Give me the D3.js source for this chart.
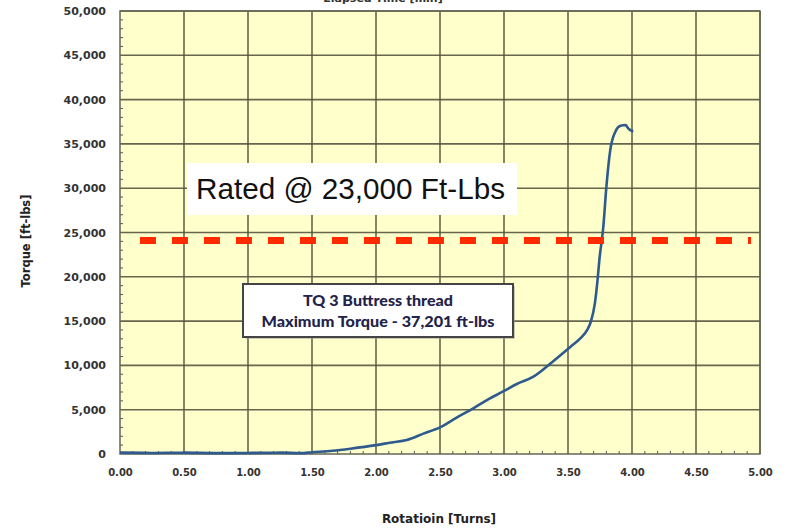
<!DOCTYPE html>
<html>
<head>
<meta charset="utf-8">
<script src="https://cdn.jsdelivr.net/npm/d3@7"></script>
<style>
  html, body { margin: 0; padding: 0; background: #ffffff; }
  svg { display: block; }
</style>
</head>
<body>
<svg id="chart" width="790" height="528"></svg>
<script>
// ---- data ----
const rotation = [0, 0.25, 0.5, 0.75, 1.0, 1.25, 1.41, 1.5, 1.66, 1.8, 2.0, 2.12, 2.24, 2.37, 2.5, 2.63, 2.76, 2.88, 2.99, 3.1, 3.23, 3.38, 3.52, 3.6, 3.65, 3.68, 3.71, 3.73, 3.745, 3.776, 3.80, 3.83, 3.87, 3.906, 3.95, 3.97, 4.01];
const torque   = [150, 120, 150, 100, 120, 150, 100, 200, 370, 600, 1000, 1300, 1580, 2300, 3000, 4100, 5150, 6200, 7030, 7900, 8730, 10420, 12110, 13100, 14000, 15000, 17000, 19500, 21900, 25650, 30170, 34300, 36380, 37020, 37130, 36760, 36380];
const xTicks = [0, 0.5, 1.0, 1.5, 2.0, 2.5, 3.0, 3.5, 4.0, 4.5, 5.0];
const yTicks = [0, 5000, 10000, 15000, 20000, 25000, 30000, 35000, 40000, 45000, 50000];
const ratedLineValue = 24100;
const ratedLineRange = [0.156, 4.93];
const ratedLabel = "Rated @ 23,000 Ft-Lbs";
const noteLines = ["TQ 3 Buttress thread", "Maximum Torque - 37,201 ft-lbs"];
const xTitle = "Rotatioin [Turns]";
const yTitle = "Torque [ft-lbs]";
const topTitle = "Elapsed Time [min]";

// ---- layout ----
const svg = d3.select("#chart");
const L = 120, R = 760, T = 11, B = 454;
const x = d3.scaleLinear().domain([0, 5]).range([L, R]);
const y = d3.scaleLinear().domain([0, 50000]).range([B, T]);

// partially visible top title (cut off at the top edge, as in the reference)
svg.append("text").attr("x", 383).attr("y", 2).attr("text-anchor", "middle")
  .attr("font-family", "DejaVu Sans").attr("font-weight", "bold").attr("font-size", 11)
  .attr("fill", "#333").text(topTitle);

// plot background
svg.append("rect").attr("x", L).attr("y", T).attr("width", R - L).attr("height", B - T)
  .attr("fill", "#FFFFCC");

// grid
const grid = svg.append("g");
grid.selectAll(".gx").data(xTicks.slice(1)).join("line")
  .attr("x1", d => x(d)).attr("x2", d => x(d)).attr("y1", T).attr("y2", B)
  .attr("stroke", "#55553f").attr("stroke-opacity", 0.9).attr("stroke-width", 1.6);
grid.selectAll(".gy").data(yTicks.slice(1)).join("line")
  .attr("x1", L).attr("x2", R).attr("y1", d => y(d)).attr("y2", d => y(d))
  .attr("stroke", "#55553f").attr("stroke-opacity", 0.9).attr("stroke-width", 1.6);

// minor ticks
const minorY = d3.range(0, 50001, 1000).filter(v => v % 5000 !== 0);
svg.append("g").selectAll("line").data(minorY).join("line")
  .attr("x1", L).attr("x2", L + 3).attr("y1", d => y(d)).attr("y2", d => y(d))
  .attr("stroke", "#555").attr("stroke-width", 1);
const minorX = d3.range(1, 50).map(i => i / 10).filter((v, i) => (i + 1) % 5 !== 0);
svg.append("g").selectAll("line").data(minorX).join("line")
  .attr("x1", d => x(d)).attr("x2", d => x(d)).attr("y1", B).attr("y2", B - 3)
  .attr("stroke", "#555").attr("stroke-width", 1);

// plot border
svg.append("rect").attr("x", L).attr("y", T).attr("width", R - L).attr("height", B - T)
  .attr("fill", "none").attr("stroke", "#666655").attr("stroke-width", 1.5);

// axes
const yAxis = d3.axisLeft(y).tickValues(yTicks).tickSize(0).tickPadding(14)
  .tickFormat(d3.format(","));
const gy = svg.append("g").attr("transform", `translate(${L},0)`).call(yAxis);
gy.select(".domain").remove();
gy.selectAll("text").attr("font-family", "DejaVu Sans").attr("font-weight", "bold")
  .attr("font-size", 11).attr("fill", "#333");

const xAxis = d3.axisBottom(x).tickValues(xTicks).tickSize(0).tickPadding(15)
  .tickFormat(d3.format(".2f"));
const gx = svg.append("g").attr("transform", `translate(0,${B})`).call(xAxis);
gx.select(".domain").remove();
gx.selectAll("text").attr("font-family", "DejaVu Sans").attr("font-weight", "bold")
  .attr("font-size", 10).attr("fill", "#333");

// axis titles
svg.append("text").attr("x", 439).attr("y", 523).attr("text-anchor", "middle")
  .attr("font-family", "DejaVu Sans").attr("font-weight", "bold").attr("font-size", 12)
  .attr("fill", "#222").text(xTitle);
svg.append("text").attr("transform", "translate(30,241) rotate(-90)").attr("text-anchor", "middle")
  .attr("font-family", "DejaVu Sans").attr("font-weight", "bold").attr("font-size", 11.5)
  .attr("fill", "#222").text(yTitle);

// curve
const pts = rotation.map((r, i) => [r, torque[i]]);
const line = d3.line().x(d => x(d[0])).y(d => y(d[1])).curve(d3.curveMonotoneX);
svg.append("path").datum(pts).attr("d", line).attr("fill", "none")
  .attr("stroke", "#2E5A8E").attr("stroke-width", 2.6).attr("stroke-linejoin", "round");

// rated dashed line
svg.append("line")
  .attr("x1", x(ratedLineRange[0])).attr("x2", x(ratedLineRange[1]))
  .attr("y1", y(ratedLineValue)).attr("y2", y(ratedLineValue))
  .attr("stroke", "#FF2A00").attr("stroke-width", 7).attr("stroke-dasharray", "16 16");

// rated label box
svg.append("rect").attr("x", 187).attr("y", 163).attr("width", 330).attr("height", 52)
  .attr("fill", "#ffffff");
svg.append("text").attr("x", 196).attr("y", 198.5)
  .attr("font-family", "Liberation Sans, Arial, sans-serif").attr("font-size", 29)
  .attr("textLength", 309).attr("lengthAdjust", "spacingAndGlyphs")
  .attr("fill", "#111").text(ratedLabel);

// note box
svg.append("rect").attr("x", 245).attr("y", 286).attr("width", 270).attr("height", 53)
  .attr("fill", "#999").attr("opacity", 0.5);
svg.append("rect").attr("x", 243).attr("y", 284).attr("width", 270).attr("height", 53)
  .attr("fill", "#ffffff").attr("stroke", "#444").attr("stroke-width", 2);
const noteWidths = [150, 233];
const noteY = [306, 327];
noteLines.forEach((t, i) => {
  svg.append("text").attr("x", 378).attr("y", noteY[i]).attr("text-anchor", "middle")
    .attr("font-family", "Lato, sans-serif").attr("font-weight", "900").attr("font-size", 15.5)
    .attr("textLength", noteWidths[i]).attr("lengthAdjust", "spacingAndGlyphs")
    .attr("fill", "#23234a").text(t);
});
</script>
</body>
</html>
